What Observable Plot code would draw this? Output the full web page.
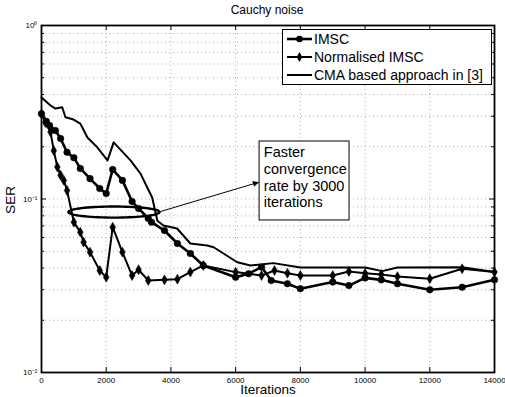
<!DOCTYPE html>
<html><head><meta charset="utf-8">
<script src="https://cdn.jsdelivr.net/npm/d3@7"></script>
<script src="https://cdn.jsdelivr.net/npm/@observablehq/plot@0.6"></script>
<style>
body{margin:0;background:#fff}
svg{font-family: Arial, "Liberation Sans", Helvetica, sans-serif}
</style>
</head><body><div id="chart"></div>
<script>
// ---- data ----
const imscIter = [0,150,250,430,590,790,1000,1200,1500,1800,2000,2200,2500,2800,3000,3300,3400,3800,4200,4600,5000,6000,6400,6800,7100,7600,8000,9000,9500,10000,10500,11000,12000,13000,14000];
const imscSER  = [0.31,0.28,0.265,0.248,0.223,0.186,0.173,0.150,0.131,0.115,0.1076,0.148,0.128,0.0967,0.0882,0.0772,0.0735,0.0658,0.0554,0.0485,0.0414,0.0354,0.0371,0.0405,0.0339,0.0325,0.0304,0.0332,0.0317,0.0351,0.0342,0.0325,0.0300,0.0310,0.0342];

const normIter = [0,120,280,380,490,590,690,790,1000,1200,1300,1500,1800,2000,2200,2500,2800,3000,3300,3800,4200,4600,5000,6000,6800,7200,7600,8000,9000,9500,10000,10500,11000,12000,13000,14000];
const normSER  = [0.31,0.276,0.243,0.190,0.153,0.137,0.128,0.112,0.0735,0.0644,0.0564,0.0494,0.0387,0.0354,0.0688,0.0494,0.0362,0.0391,0.0339,0.0342,0.0345,0.0379,0.0414,0.0379,0.0362,0.0387,0.0373,0.0362,0.0362,0.0382,0.0373,0.0367,0.0357,0.0347,0.0396,0.0379];

const cmaIter = [0,280,430,640,740,990,1200,1420,1730,2040,2230,2750,3060,3420,3580,3770,4190,4600,5120,5320,6050,6460,7170,8000,10000,10530,11000,13000,14000];
const cmaSER  = [0.385,0.346,0.332,0.338,0.296,0.287,0.272,0.226,0.198,0.167,0.212,0.167,0.140,0.102,0.075,0.0704,0.0676,0.0554,0.054,0.0527,0.0432,0.0414,0.0427,0.0403,0.0403,0.0384,0.0403,0.0404,0.0379];

const seriesNames = ["IMSC", "Normalised IMSC", "CMA based approach in [3]"];
const xTicks = [0,2000,4000,6000,8000,10000,12000,14000];
const yMajor = [0.01, 0.1, 1];
const yMajorLabels = ["10\u207B\u00B2", "10\u207B\u00B9", "10\u2070"];
const titleText = "Cauchy noise";
const xLabel = "Iterations";
const yLabel = "SER";
const noteText = "Faster\nconvergence\nrate by 3000\niterations";
// annotation anchors (data units)
const ellipseCenter = [2240, 0.0841];
const ellipseHalfX = 1410;      // iterations
const ellipseHalfLogY = 0.032;  // decades
const arrowFrom = [3680, 0.0847];
const arrowTo = [6720, 0.125];
const noteBox = {x1: 6740, x2: 9520, y1: 0.0752, y2: 0.2145};

// ---- derived ----
const imsc = imscIter.map((x,i)=>({x, y: imscSER[i]}));
const norm = normIter.map((x,i)=>({x, y: normSER[i]}));
const cma = cmaIter.map((x,i)=>({x, y: cmaSER[i]}));
const yMinor = [];
for (const d of [0.01, 0.1]) for (let m = 2; m <= 9; m++) yMinor.push(+(m*d).toPrecision(3));
const yGrid = yMajor.concat(yMinor).filter(v => v > 0.01 && v < 1);
const xGrid = xTicks.filter(v => v > 0 && v < 14000);
const ellipse = d3.range(0, 73).map(i => {
  const t = i / 72 * 2 * Math.PI;
  return {x: ellipseCenter[0] + ellipseHalfX*Math.cos(t), y: ellipseCenter[1]*Math.pow(10, ellipseHalfLogY*Math.sin(t))};
});
const labelMap = new Map(yMajor.map((v,i)=>[v, yMajorLabels[i]]));

const W = 505, H = 397, mL = 41, mR = 11, mT = 25, mB = 25;
const fw = W - mL - mR, fh = H - mT - mB;

const chart = Plot.plot({
  width: W, height: H,
  marginLeft: mL, marginRight: mR, marginTop: mT, marginBottom: mB,
  style: {fontFamily: "Arial, 'Liberation Sans', sans-serif", background: "#fff"},
  x: {domain: [0, 14000], axis: null},
  y: {type: "log", domain: [0.01, 1], axis: null},
  marks: [
    Plot.gridX(xGrid, {stroke: "#999", strokeOpacity: 1, strokeWidth: 0.8, strokeDasharray: "1,3"}),
    Plot.gridY(yGrid, {stroke: "#999", strokeOpacity: 1, strokeWidth: 0.8, strokeDasharray: "1,3"}),
    // inward ticks
    Plot.ruleX(xTicks, {x: d=>d, insetTop: fh-5, stroke: "black"}),
    Plot.ruleX(xTicks, {x: d=>d, insetBottom: fh-5, stroke: "black"}),
    Plot.ruleY(yMajor, {y: d=>d, insetRight: fw-5, stroke: "black"}),
    Plot.ruleY(yMajor, {y: d=>d, insetLeft: fw-5, stroke: "black"}),
    Plot.ruleY(yMinor, {y: d=>d, insetRight: fw-3, stroke: "black"}),
    Plot.ruleY(yMinor, {y: d=>d, insetLeft: fw-3, stroke: "black"}),
    Plot.axisX(xTicks, {anchor: "bottom", tickSize: 0, tickPadding: 5, fontSize: 8, tickFormat: d => String(d)}),
    Plot.axisY(yMajor, {anchor: "left", tickSize: 0, tickPadding: 4, fontSize: 8, tickFormat: d => labelMap.get(d)}),
    // series
    Plot.line(cma, {x: "x", y: "y", stroke: "black", strokeWidth: 2}),
    Plot.line(norm, {x: "x", y: "y", stroke: "black", strokeWidth: 2}),
    Plot.dot(norm, {x: "x", y: "y", symbol: "diamond", r: 3, fill: "black", stroke: "black", strokeWidth: 0.5}),
    Plot.line(imsc, {x: "x", y: "y", stroke: "black", strokeWidth: 2.6}),
    Plot.dot(imsc, {x: "x", y: "y", r: 3.3, fill: "black", stroke: "black", strokeWidth: 0.5}),
    // annotation
    Plot.line(ellipse, {x: "x", y: "y", stroke: "black", strokeWidth: 2.4}),
    Plot.link([0], {x1: () => arrowFrom[0], y1: () => arrowFrom[1], x2: () => arrowTo[0], y2: () => arrowTo[1], stroke: "black", strokeWidth: 1}),
    Plot.rect([noteBox], {x1: "x1", x2: "x2", y1: "y1", y2: "y2", fill: "white", stroke: "black", strokeWidth: 1}),
    Plot.text([noteText], {x: () => noteBox.x1 + 130, y: () => noteBox.y2, text: d => d, textAnchor: "start", lineAnchor: "top", dy: 4, fontSize: 14.5, lineHeight: 1.15, fill: "black"}),
    Plot.frame({stroke: "black", strokeWidth: 1.8})
  ]
});

document.getElementById("chart").appendChild(chart);

const svg = d3.select(chart);
// arrow head
const defs = svg.append("defs");
defs.append("marker").attr("id", "ah").attr("viewBox", "0 0 10 10").attr("refX", 10).attr("refY", 5)
  .attr("markerWidth", 9).attr("markerHeight", 6).attr("orient", "auto").attr("markerUnits", "userSpaceOnUse")
  .append("path").attr("d", "M0,0L10,5L0,10z").attr("fill", "black");
svg.selectAll('g[aria-label="link"] path').attr("marker-end", "url(#ah)");

// title & axis labels
svg.append("text").attr("x", 267).attr("y", 14).attr("text-anchor", "middle").attr("font-size", 12).text(titleText);
svg.append("text").attr("x", 268).attr("y", 394).attr("text-anchor", "middle").attr("font-size", 13.5).text(xLabel);
svg.append("text").attr("transform", "translate(15,200) rotate(-90)").attr("text-anchor", "middle").attr("font-size", 13.5).text(yLabel);

// legend
const lg = svg.append("g").attr("text-anchor", "start");
lg.append("rect").attr("x", 282.5).attr("y", 29.5).attr("width", 209).attr("height", 55).attr("fill", "white").attr("stroke", "black").attr("stroke-width", 1);
const rows = [39, 57, 75];
const widths = [2.6, 2, 2];
seriesNames.forEach((name, i) => {
  const y = rows[i];
  lg.append("line").attr("x1", 287).attr("x2", 312).attr("y1", y).attr("y2", y).attr("stroke", "black").attr("stroke-width", widths[i]);
  if (i === 0) lg.append("circle").attr("cx", 299.5).attr("cy", y).attr("r", 3.3).attr("fill", "black");
  if (i === 1) lg.append("path").attr("d", d3.symbol(d3.symbolDiamond, Math.PI*3*3)()).attr("transform", `translate(299.5,${y})`).attr("fill", "black");
  lg.append("text").attr("x", 314).attr("y", y).attr("dy", "0.36em").attr("text-anchor", "start").attr("font-size", 14).text(name);
});
</script>
</body></html>
